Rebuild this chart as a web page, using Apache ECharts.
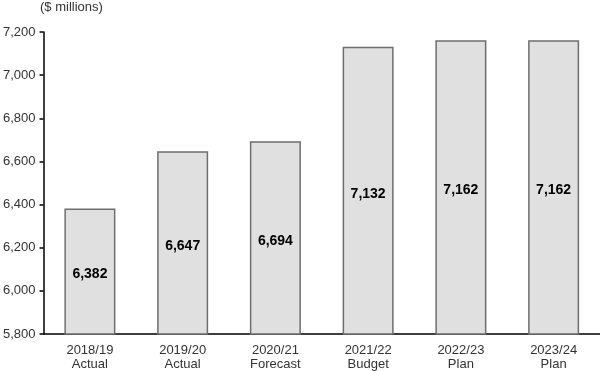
<!DOCTYPE html>
<html><head><meta charset="utf-8">
<script src="https://cdn.jsdelivr.net/npm/echarts@6/dist/echarts.min.js"></script>
<style>html,body{margin:0;padding:0;background:#fff}#c{width:600px;height:371px}</style>
</head><body><div id="c"></div>
<script>
var categories = ['2018/19\nActual','2019/20\nActual','2020/21\nForecast','2021/22\nBudget','2022/23\nPlan','2023/24\nPlan'];
var values = [6382, 6647, 6694, 7132, 7162, 7162];
var yTicks = {min: 5800, max: 7200, interval: 200};
var unitLabel = '($ millions)';

var chart = echarts.init(document.getElementById('c'), null, {renderer:'canvas'});
chart.setOption({
  animation: false,
  textStyle: {fontFamily: 'Liberation Sans, Arial, sans-serif'},
  graphic: [{type:'text', left: 40, top: 1, style:{text: unitLabel, font: '13px Liberation Sans, Arial, sans-serif', fill:'#333'}}],
  grid: {left: 42, right: 0, top: 32, bottom: 36},
  xAxis: {
    type: 'category', data: categories,
    axisLine: {lineStyle:{color:'#000', width:1.5}},
    axisTick: {show:false},
    axisLabel: {color:'#333', fontSize: 13, lineHeight: 14, margin: 9}
  },
  yAxis: {
    type: 'value', min: yTicks.min, max: yTicks.max, interval: yTicks.interval,
    axisLine: {show:true, lineStyle:{color:'#000', width:1.5}},
    axisTick: {show:true, length:4, lineStyle:{color:'#000', width:1.5}},
    splitLine: {show:false},
    axisLabel: {color:'#333', fontSize:13, margin: 8,
      formatter: function(v){ return v.toLocaleString('en-US'); }}
  },
  series: [{
    type: 'bar', data: values, barWidth: '55%',
    itemStyle: {color:'#e0e0e0', borderColor:'#6e6e6e', borderWidth:1.5},
    label: {show:true, position:'inside', offset:[0,3], fontWeight:'bold', fontSize:14, color:'#000',
      formatter: function(p){ return p.value.toLocaleString('en-US'); }}
  }]
});
</script></body></html>
